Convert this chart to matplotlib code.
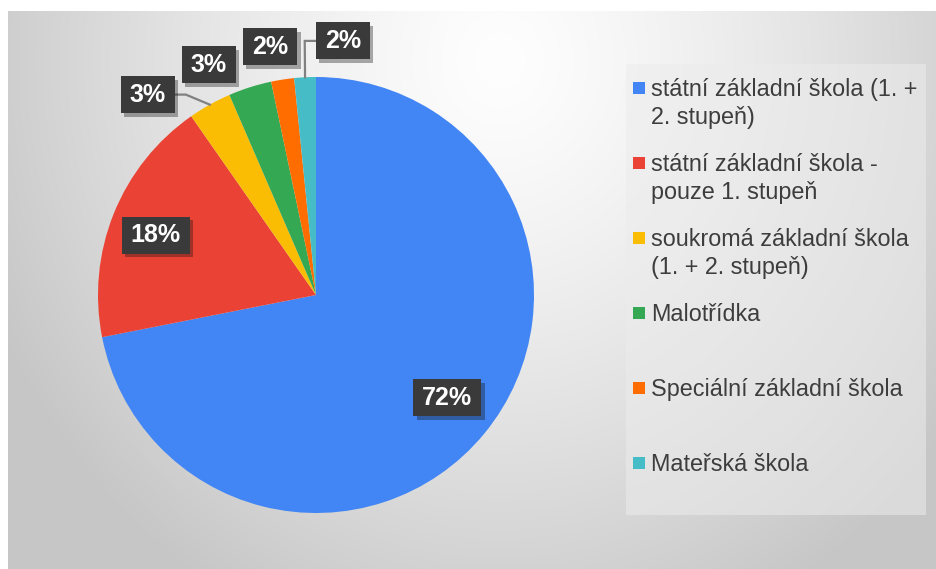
import numpy as np
import matplotlib.pyplot as plt
import matplotlib.patheffects as pe
from matplotlib.patches import Rectangle

plt.rcParams['font.family'] = ['Liberation Sans', 'DejaVu Sans']

# typy škol - podíl v %
categories = [
    "státní základní škola (1. +\n2. stupeň)",
    "státní základní škola -\npouze 1. stupeň",
    "soukromá základní škola\n(1. + 2. stupeň)",
    "Malotřídka",
    "Speciální základní škola",
    "Mateřská škola",
]
shares = [71.9, 18.4, 3.2, 3.2, 1.7, 1.6]
colors = ["#4285F4", "#EA4335", "#FBBC04", "#34A853", "#FF6D01", "#46BDC6"]

# label layout (radius in pie radii, angle in degrees), leader line yes/no
label_pos = [(0.765, -38), (0.785, 159.5), (1.20, 130), (1.165, 115), (1.157, 100.5), (1.172, 84)]
leader = [False, False, True, False, False, True]

W, H = 936, 569
fig = plt.figure(figsize=(W / 100, H / 100), dpi=100)
ax = fig.add_axes([0, 0, 1, 1])
ax.set_xlim(0, W)
ax.set_ylim(0, H)
ax.axis("off")

# background with soft radial highlight
top, left = 11, 8
rows, cols = np.mgrid[0:H - top, left:W]
d = np.sqrt(((cols - 500) / 560.0) ** 2 + ((rows + top - 60) / 620.0) ** 2)
val = 254 - 56 * np.clip(d, 0, 1) ** 1.3
ax.imshow(np.dstack([val, val, val]).astype(np.uint8), extent=(left, W, 0, H - top),
          origin="upper", zorder=0, aspect="auto")

cx, cy, R = 316, H - 295, 218
wedges, _ = ax.pie(shares, colors=colors, startangle=90, counterclock=False,
                   center=(cx, cy), radius=R, wedgeprops=dict(linewidth=0))
for w in wedges:
    w.set_zorder(2)
ax.set_xlim(0, W)
ax.set_ylim(0, H)

renderer = fig.canvas.get_renderer()
for i, w in enumerate(wedges):
    mid = np.deg2rad((w.theta1 + w.theta2) / 2)
    r, ang = label_pos[i]
    lx = cx + r * R * np.cos(np.deg2rad(ang))
    ly = cy + r * R * np.sin(np.deg2rad(ang))
    if leader[i]:
        px, py = cx + R * np.cos(mid), cy + R * np.sin(mid)
        side = 1 if px > lx else -1
        ex = lx + side * 38
        ax.plot([px, ex, lx], [py, ly, ly], color="#808080", lw=1.6, zorder=3,
                solid_joinstyle="miter")
    t = ax.text(lx, ly, f"{shares[i]:.0f}%", ha="center", va="center", fontsize=18,
                fontweight="bold", color="white", zorder=6)
    bb = t.get_window_extent(renderer)
    box = Rectangle((bb.x0 - 9, ly - 18.5), bb.width + 18, 37, fc="#3a3a3a", ec="none", zorder=5)
    box.set_path_effects([pe.withSimplePatchShadow(offset=(2.5, -2.5), alpha=0.35)])
    ax.add_patch(box)

# legend
ax.add_patch(Rectangle((626, H - 515), 300, 451, fc="#ececec", alpha=0.55, ec="none", zorder=1))
for i, lab in enumerate(categories):
    yc = H - (88 + 75 * i)
    ax.add_patch(Rectangle((633, yc - 6), 12, 12, fc=colors[i], ec="none", zorder=2))
    for k, line in enumerate(lab.split("\n")):
        ax.text(651, yc - 8 - 28 * k, line, ha="left", va="baseline", fontsize=16.8,
                color="#3d3d3d", zorder=2)

fig.savefig("out.png", dpi=100)
